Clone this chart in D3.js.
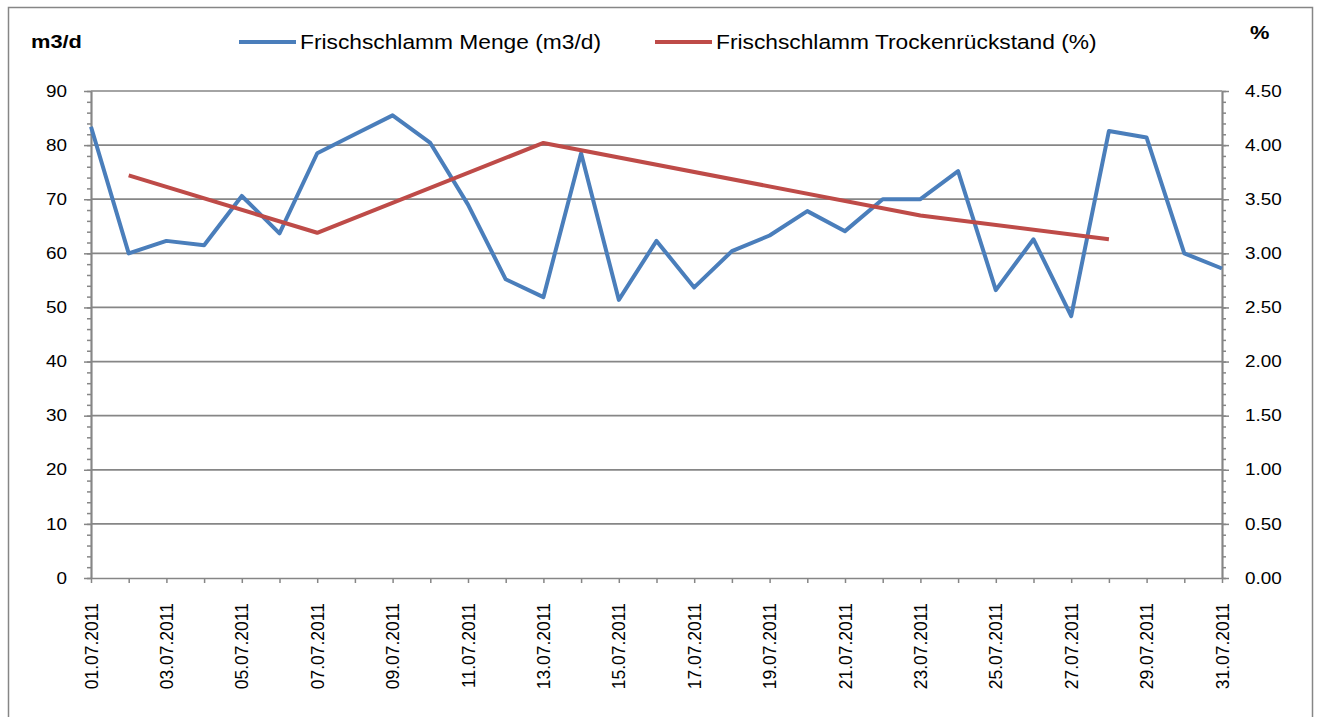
<!DOCTYPE html>
<html>
<head>
<meta charset="utf-8">
<script src="https://cdn.jsdelivr.net/npm/d3@7"></script>
<style>
  body { margin: 0; background: #fff; }
  text { font-family: 'Liberation Sans', Arial, sans-serif; fill: #000; }
</style>
</head>
<body>
<svg id="chart" width="1321" height="717"></svg>
<script>
// data
const dates = ['01.07.2011', '02.07.2011', '03.07.2011', '04.07.2011', '05.07.2011', '06.07.2011',
  '07.07.2011', '08.07.2011', '09.07.2011', '10.07.2011', '11.07.2011', '12.07.2011', '13.07.2011',
  '14.07.2011', '15.07.2011', '16.07.2011', '17.07.2011', '18.07.2011', '19.07.2011', '20.07.2011',
  '21.07.2011', '22.07.2011', '23.07.2011', '24.07.2011', '25.07.2011', '26.07.2011', '27.07.2011',
  '28.07.2011', '29.07.2011', '30.07.2011', '31.07.2011'];

const menge = [83.4, 60.0, 62.3, 61.5, 70.6, 63.7, 78.5, 82.0, 85.5, 80.4, 69.0, 55.2, 51.9, 78.5,
  51.4, 62.3, 53.7, 60.4, 63.3, 67.8, 64.1, 70.0, 70.0, 75.2, 53.2, 62.6, 48.4, 82.6, 81.4, 60.0, 57.2];

const trocken = [null, 3.72, null, null, null, null, 3.19, null, null, null, null, null, 4.02, null,
  null, null, null, null, null, null, null, null, 3.35, null, null, null, null, 3.13, null, null, null];

const leftTicks = [0, 10, 20, 30, 40, 50, 60, 70, 80, 90];
const rightTicks = [0, 0.5, 1, 1.5, 2, 2.5, 3, 3.5, 4, 4.5];

const seriesNames = ['Frischschlamm Menge (m3/d)', 'Frischschlamm Trockenrückstand (%)'];
const colors = ['#4a7ebb', '#be4b48'];

const grey = '#868686';
const sx = 1.18; // the reference text is a bit wide

const svg = d3.select('#chart');

const plot = { left: 91, right: 1222, top: 91, bottom: 578 };

const x = d3.scalePoint().domain(dates).range([plot.left, plot.right]);
const yL = d3.scaleLinear().domain([0, 90]).range([plot.bottom, plot.top]);
const yR = d3.scaleLinear().domain([0, 4.5]).range([plot.bottom, plot.top]);

const wide = (sel, px, py) => sel.attr('transform', `translate(${px},${py}) scale(${sx},1)`);

// outer frame
svg.append('rect')
  .attr('x', 8.5).attr('y', 7.5)
  .attr('width', 1304).attr('height', 720)
  .attr('fill', 'none').attr('stroke', grey).attr('stroke-width', 1.5);

// gridlines
svg.append('g')
  .selectAll('line')
  .data(leftTicks.filter(d => d > 0))
  .join('line')
  .attr('x1', plot.left).attr('x2', plot.right)
  .attr('y1', d => yL(d)).attr('y2', d => yL(d))
  .attr('stroke', grey).attr('stroke-width', 1.7);

const styleAxis = g => {
  g.selectAll('path, line').attr('stroke', grey).attr('stroke-width', 1.5);
  g.select('.domain').attr('stroke-width', 1.7);
};

// left axis
svg.append('g').attr('transform', `translate(${plot.left},0)`)
  .call(d3.axisLeft(yL).tickValues(d3.range(0, 91, 2)).tickSize(4).tickSizeOuter(0).tickFormat(''))
  .call(styleAxis);
const leftAxis = svg.append('g').attr('transform', `translate(${plot.left},0)`)
  .call(d3.axisLeft(yL).tickValues(leftTicks).tickSize(7).tickPadding(17).tickSizeOuter(0))
  .call(styleAxis);
leftAxis.selectAll('text')
  .style('font-size', '16px')
  .each(function () {
    const t = d3.select(this);
    wide(t, +t.attr('x'), 0);
    t.attr('x', 0);
  });

// right axis
svg.append('g').attr('transform', `translate(${plot.right},0)`)
  .call(d3.axisRight(yR).tickValues(d3.range(0, 4.51, 0.1)).tickSize(4).tickSizeOuter(0).tickFormat(''))
  .call(styleAxis);
const rightAxis = svg.append('g').attr('transform', `translate(${plot.right},0)`)
  .call(d3.axisRight(yR).tickValues(rightTicks).tickSize(7).tickPadding(16).tickSizeOuter(0)
    .tickFormat(d3.format('.2f')))
  .call(styleAxis);
rightAxis.selectAll('text')
  .style('font-size', '16px')
  .each(function () {
    const t = d3.select(this);
    wide(t, +t.attr('x'), 0);
    t.attr('x', 0);
  });

// x axis
const xAxis = svg.append('g').attr('transform', `translate(0,${plot.bottom})`)
  .call(d3.axisBottom(x).tickSize(5).tickSizeOuter(0)
    .tickFormat((d, i) => i % 2 === 0 ? d : ''))
  .call(styleAxis);
xAxis.selectAll('text')
  .style('font-size', '17.5px')
  .attr('text-anchor', 'end')
  .attr('transform', 'rotate(-90)')
  .attr('x', -25)
  .attr('y', 0)
  .attr('dy', '0.35em');

// lines
const lineMenge = d3.line()
  .x((d, i) => x(dates[i]))
  .y(d => yL(d));

svg.append('path')
  .datum(menge)
  .attr('d', lineMenge)
  .attr('fill', 'none')
  .attr('stroke', colors[0])
  .attr('stroke-width', 4)
  .attr('stroke-linejoin', 'round');

const trockenPts = trocken.map((v, i) => ({ date: dates[i], v })).filter(d => d.v !== null);
svg.append('path')
  .datum(trockenPts)
  .attr('d', d3.line().x(d => x(d.date)).y(d => yR(d.v)))
  .attr('fill', 'none')
  .attr('stroke', colors[1])
  .attr('stroke-width', 4)
  .attr('stroke-linejoin', 'round');

// unit labels
svg.append('text').text('m3/d')
  .style('font-size', '18.5px').style('font-weight', 'bold')
  .attr('dy', '0.35em')
  .call(wide, 31, 42);
svg.append('text').text('%')
  .style('font-size', '18.5px').style('font-weight', 'bold')
  .attr('dy', '0.35em')
  .call(wide, 1250, 33);

// legend
const legendX = [239, 655];
seriesNames.forEach((name, i) => {
  svg.append('line')
    .attr('x1', legendX[i]).attr('x2', legendX[i] + 57)
    .attr('y1', 42).attr('y2', 42)
    .attr('stroke', colors[i]).attr('stroke-width', 4);
  svg.append('text').text(name)
    .style('font-size', '19.3px')
    .attr('dy', '0.35em')
    .call(wide, legendX[i] + 61, 42);
});
</script>
</body>
</html>
